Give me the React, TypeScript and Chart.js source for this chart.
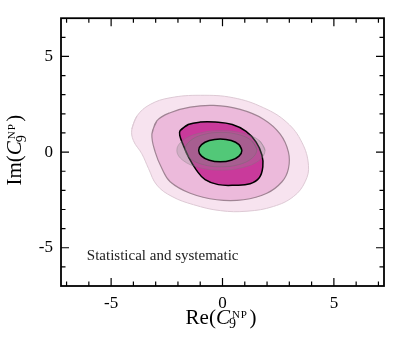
import React, { useEffect, useRef } from "react";
import { Chart, registerables } from "chart.js";

Chart.register(...registerables);

const SERIF = '"Liberation Serif", "DejaVu Serif", serif';

// axis ranges and ticks
const xLimits = [-7.25, 7.25];
const yLimits = [-7, 7];
const majorTicks = [-5, 0, 5];
const minorTicks = [-7, -6, -5, -4, -3, -2, -1, 0, 1, 2, 3, 4, 5, 6, 7];
const tickLabels = ["-5", "0", "5"];

// axis title parts: prefix, italic symbol, subscript, superscript, suffix
const xTitleParts = ["Re(", "C", "9", "NP", ")"];
const yTitleParts = ["Im(", "C", "9", "NP", ")"];

const annotationText = "Statistical and systematic";
const annotationX = -6.09;
const annotationY = -5.64;

// contour levels (outer -> inner)
const outerX = [-4.07, -3.84, -3.25, -2.35, -1.0, 0.49, 1.84, 2.89, 3.56, 3.86, 3.71, 3.19, 2.29, 1.1, -0.1, -1.3, -2.27, -2.95, -3.32, -3.62, -4.0];
const outerY = [1.2, 1.89, 2.49, 2.84, 2.97, 2.84, 2.32, 1.55, 0.52, -0.69, -1.55, -2.32, -2.84, -3.09, -3.06, -2.75, -2.32, -1.72, -0.86, -0.09, 0.6];

const midX = [-3.17, -2.95, -2.35, -1.45, -0.4, 0.79, 1.84, 2.59, 2.96, 2.96, 2.67, 1.99, 0.94, -0.25, -1.45, -2.35, -2.72, -3.02];
const midY = [0.94, 1.63, 2.06, 2.35, 2.44, 2.23, 1.72, 0.94, 0.0, -0.86, -1.55, -2.15, -2.49, -2.49, -2.15, -1.55, -0.86, 0.0];

const magentaX = [-1.9, -1.54, -1.0, -0.33, 0.44, 1.06, 1.51, 1.77, 1.81, 1.65, 1.24, 0.57, -0.19, -0.78, -1.18, -1.5, -1.76, -1.92];
const magentaY = [1.13, 1.44, 1.57, 1.57, 1.44, 1.08, 0.52, -0.15, -0.77, -1.34, -1.65, -1.73, -1.7, -1.44, -0.93, -0.31, 0.36, 0.88];

const grayOuterX = [1.91, 1.65, 0.92, -0.07, -1.06, -1.78, -2.05, -1.78, -1.06, -0.07, 0.92, 1.65];
const grayOuterY = [0.09, 0.61, 0.98, 1.12, 0.98, 0.61, 0.09, -0.43, -0.8, -0.94, -0.8, -0.43];

const grayInnerX = [1.54, 1.32, 0.74, -0.07, -0.88, -1.46, -1.68, -1.46, -0.88, -0.07, 0.74, 1.32];
const grayInnerY = [0.13, 0.58, 0.91, 1.03, 0.91, 0.58, 0.13, -0.32, -0.65, -0.77, -0.65, -0.32];

const greenX = [0.87, 0.74, 0.39, -0.1, -0.59, -0.94, -1.07, -0.94, -0.59, -0.1, 0.39, 0.74];
const greenY = [0.09, 0.39, 0.61, 0.69, 0.61, 0.39, 0.09, -0.21, -0.43, -0.51, -0.43, -0.21];

function closedLoop(xs: number[], ys: number[]) {
  const pts = xs.map((x, i) => ({ x, y: ys[i] }));
  return [...pts, pts[0], pts[1]];
}

function drawMathLabel(ctx: CanvasRenderingContext2D, parts: string[], cx: number, baseline: number) {
  const [pre, sym, sub, sup, post] = parts;
  const mainFont = `21px ${SERIF}`;
  const symFont = `italic 21px ${SERIF}`;
  const subFont = `14px ${SERIF}`;
  const supFont = `11px ${SERIF}`;
  ctx.font = mainFont;
  const wPre = ctx.measureText(pre).width;
  const wPost = ctx.measureText(post).width;
  ctx.font = symFont;
  const wSym = ctx.measureText(sym).width;
  ctx.font = subFont;
  const wSub = ctx.measureText(sub).width;
  ctx.font = supFont;
  const supText = sup.split("").join(String.fromCharCode(8202));
  const wSup = ctx.measureText(supText).width + 1;
  const supShift = 2;
  const wScript = Math.max(wSub, wSup + supShift) + 1.5;
  const total = wPre + wSym + wScript + wPost;
  let x = cx - total / 2;
  ctx.fillStyle = "#000";
  ctx.textAlign = "left";
  ctx.textBaseline = "alphabetic";
  ctx.font = mainFont;
  ctx.fillText(pre, x, baseline);
  x += wPre;
  ctx.font = symFont;
  ctx.fillText(sym, x, baseline);
  x += wSym;
  ctx.font = subFont;
  ctx.fillText(sub, x - 1, baseline + 4.8);
  ctx.font = supFont;
  ctx.fillText(supText, x + supShift, baseline - 5.8);
  x += wScript;
  ctx.font = mainFont;
  ctx.fillText(post, x, baseline);
}

const framePlugin = {
  id: "frameAndTitles",
  afterDraw(chart: any) {
    const { ctx, chartArea: a, scales } = chart;
    const xs = scales.x;
    const ys = scales.y;
    ctx.save();
    // ticks (inward, all four sides)
    ctx.strokeStyle = "#000";
    ctx.lineWidth = 1.2;
    ctx.beginPath();
    for (const v of minorTicks) {
      const len = majorTicks.includes(v) ? 8 : 4.5;
      const px = xs.getPixelForValue(v);
      if (px > a.left + 1 && px < a.right - 1) {
        ctx.moveTo(px, a.bottom);
        ctx.lineTo(px, a.bottom - len);
        ctx.moveTo(px, a.top);
        ctx.lineTo(px, a.top + len);
      }
      const py = ys.getPixelForValue(v);
      if (py > a.top + 1 && py < a.bottom - 1) {
        ctx.moveTo(a.left, py);
        ctx.lineTo(a.left + len, py);
        ctx.moveTo(a.right, py);
        ctx.lineTo(a.right - len, py);
      }
    }
    ctx.stroke();
    // frame
    ctx.lineWidth = 1.8;
    ctx.strokeRect(a.left, a.top, a.right - a.left, a.bottom - a.top);
    // annotation
    ctx.font = `15px ${SERIF}`;
    ctx.fillStyle = "#222";
    ctx.textAlign = "left";
    ctx.textBaseline = "alphabetic";
    ctx.fillText(annotationText, xs.getPixelForValue(annotationX), ys.getPixelForValue(annotationY));
    // axis titles
    drawMathLabel(ctx, xTitleParts, (a.left + a.right) / 2 - 1.5, 323.5);
    ctx.translate(20.8, (a.top + a.bottom) / 2 - 2);
    ctx.rotate(-Math.PI / 2);
    drawMathLabel(ctx, yTitleParts, 0, 0);
    ctx.restore();
  },
};

export default function App() {
  const ref = useRef<HTMLCanvasElement | null>(null);
  useEffect(() => {
    document.body.style.margin = "0";
    const canvas = ref.current;
    if (!canvas) return;
    const lineBase = { showLine: true, pointRadius: 0, pointHoverRadius: 0, tension: 0.4, fill: "shape" as const };
    const chart = new Chart(canvas, {
      type: "scatter",
      data: {
        datasets: [
          { ...lineBase, data: closedLoop(outerX, outerY), backgroundColor: "#f7e3ef", borderColor: "#ddc9d4", borderWidth: 1, order: 6 },
          { ...lineBase, data: closedLoop(midX, midY), backgroundColor: "#ecbadb", borderColor: "#a08494", borderWidth: 1.2, order: 5 },
          { ...lineBase, data: closedLoop(magentaX, magentaY), backgroundColor: "#c93a9b", borderColor: "#000000", borderWidth: 1.5, order: 4 },
          { ...lineBase, data: closedLoop(grayOuterX, grayOuterY), backgroundColor: "rgba(140,140,140,0.28)", borderColor: "rgba(120,120,120,0.35)", borderWidth: 1, order: 3 },
          { ...lineBase, data: closedLoop(grayInnerX, grayInnerY), backgroundColor: "rgba(130,130,130,0.3)", borderColor: "rgba(110,110,110,0.4)", borderWidth: 1, order: 2 },
          { ...lineBase, data: closedLoop(greenX, greenY), backgroundColor: "#52c878", borderColor: "#000000", borderWidth: 1.5, order: 1 },
        ] as any,
      },
      options: {
        animation: false,
        responsive: false,
        events: [],
        layout: { padding: { top: 15, right: 15, left: 0, bottom: 0 } },
        plugins: { legend: { display: false }, tooltip: { enabled: false } },
        scales: {
          x: {
            type: "linear",
            min: xLimits[0],
            max: xLimits[1],
            grid: { display: false, drawTicks: false },
            border: { display: false },
            afterBuildTicks: (s: any) => { s.ticks = majorTicks.map((v) => ({ value: v })); },
            afterFit: (s: any) => { s.height = 64; },
            ticks: {
              padding: 7,
              color: "#000",
              font: { family: SERIF, size: 17 },
              maxRotation: 0,
              callback: (v: any) => tickLabels[majorTicks.indexOf(Number(v))] ?? "",
            },
          },
          y: {
            type: "linear",
            min: yLimits[0],
            max: yLimits[1],
            grid: { display: false, drawTicks: false },
            border: { display: false },
            afterBuildTicks: (s: any) => { s.ticks = majorTicks.map((v) => ({ value: v })); },
            afterFit: (s: any) => { s.width = 61; },
            ticks: {
              padding: 8,
              color: "#000",
              font: { family: SERIF, size: 17 },
              callback: (v: any) => tickLabels[majorTicks.indexOf(Number(v))] ?? "",
            },
          },
        },
      },
      plugins: [framePlugin],
    });
    return () => chart.destroy();
  }, []);
  return (
    <div style={{ width: 399, height: 350 }}>
      <canvas ref={ref} width={399} height={350} style={{ display: "block", width: 399, height: 350 }} />
    </div>
  );
}
